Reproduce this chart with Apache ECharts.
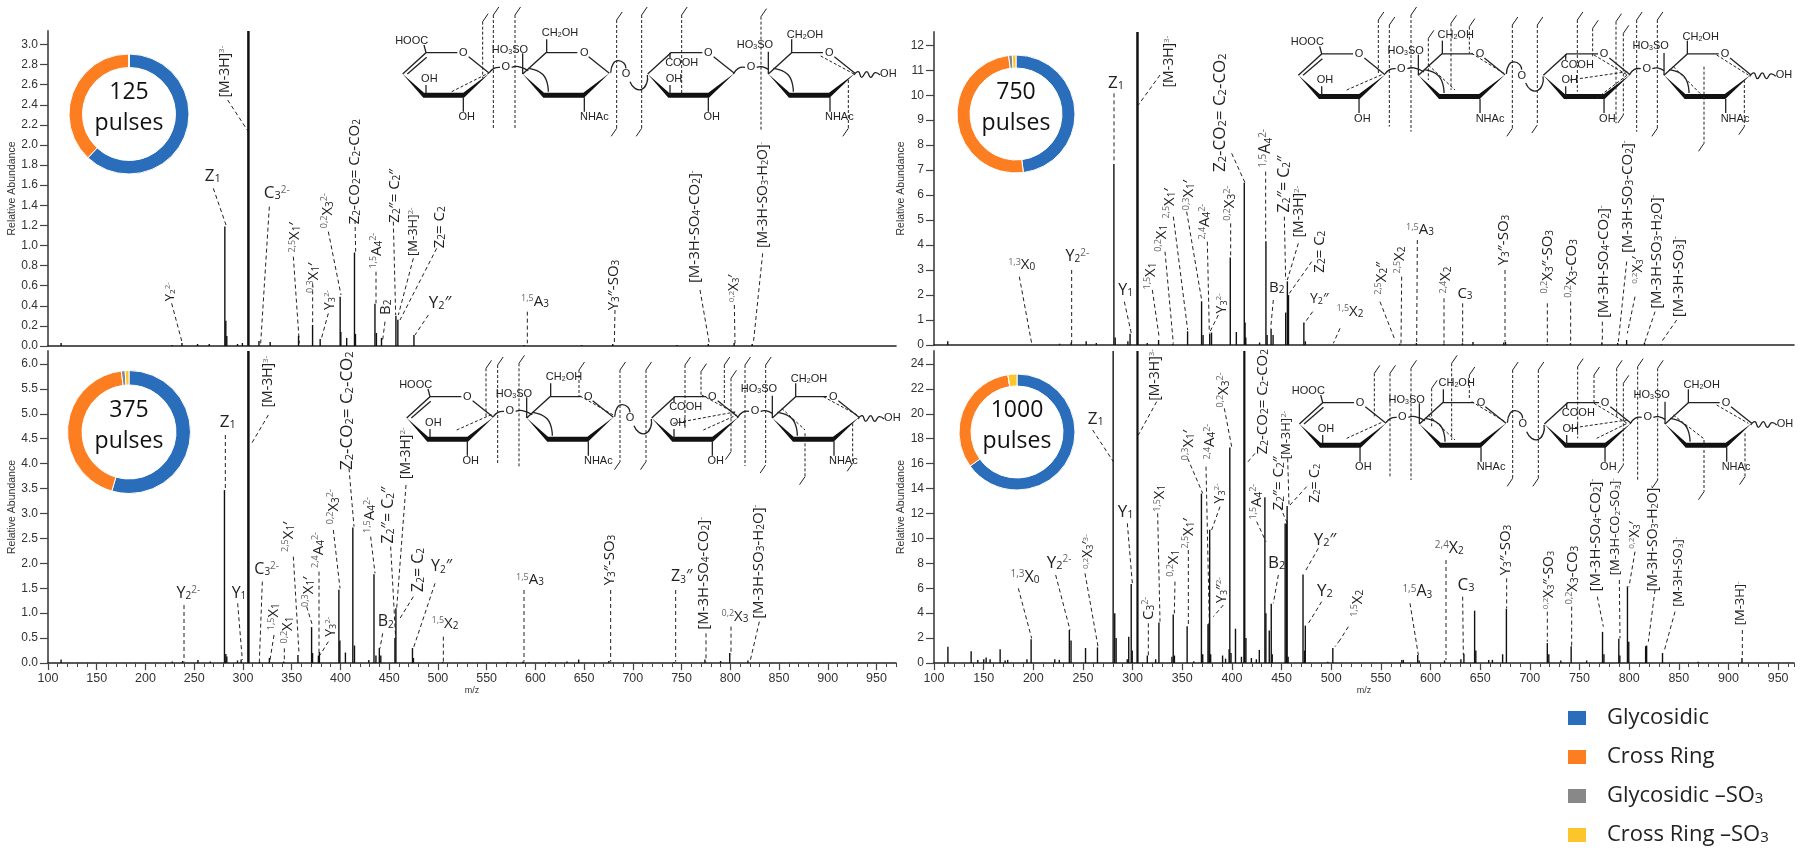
<!DOCTYPE html>
<html>
<head>
<meta charset="utf-8">
<title>MS/MS spectra at increasing pulse counts</title>
<style>
html, body { margin: 0; background: #fff; }
#main { width: 1800px; height: 854px; }
</style>
<script src="https://cdn.jsdelivr.net/npm/echarts@6/dist/echarts.min.js"></script>
</head>
<body>
<div id="main"></div>
<script>
// fragment type shares per pulse count
const fragmentTypes = ['Glycosidic', 'Cross Ring', 'Glycosidic –SO3', 'Cross Ring –SO3'];
const share125 = [62, 38, 0, 0];
const share375 = [54.5, 43.5, 1, 1];
const share750 = [48, 50, 1, 1];
const share1000 = [65, 32.5, 0, 2.5];

// tick labels
const mzTicks = [100, 150, 200, 250, 300, 350, 400, 450, 500, 550, 600, 650, 700, 750, 800, 850, 900, 950];
const yTicks125 = [0, 0.2, 0.4, 0.6, 0.8, 1.0, 1.2, 1.4, 1.6, 1.8, 2.0, 2.2, 2.4, 2.6, 2.8, 3.0];
const yTicks375 = [0, 0.5, 1.0, 1.5, 2.0, 2.5, 3.0, 3.5, 4.0, 4.5, 5.0, 5.5, 6.0];
const yTicks750 = [0, 1, 2, 3, 4, 5, 6, 7, 8, 9, 10, 11, 12];
const yTicks1000 = [0, 2, 4, 6, 8, 10, 12, 14, 16, 18, 20, 22, 24];

// 125 pulses
const mz125 = [114, 228, 238, 254, 266, 282, 283, 284, 295, 300, 317, 328.5, 357.6, 372, 379.8, 400.3, 401, 407, 415, 416, 436, 437.5, 442.7, 457.5, 459.5, 476, 589, 648, 680, 746, 778, 804.5, 823];
const abundance125 = [0.03, 0.01, 0.03, 0.02, 0.02, 1.19, 0.25, 0.1, 0.02, 0.03, 0.05, 0.04, 0.1, 0.21, 0.07, 0.49, 0.14, 0.08, 0.93, 0.12, 0.42, 0.13, 0.08, 0.3, 0.26, 0.11, 0.01, 0.01, 0.02, 0.01, 0.02, 0.03, 0.02];
const baseMz125 = [305.6];
const baseAbundance125 = [3.3];

// 375 pulses
const mz375 = [114, 228, 238.7, 254.4, 267, 281.6, 283, 284, 295, 298.7, 317.6, 327.7, 342.4, 357, 371, 372, 378, 379, 399, 400, 405.7, 413.3, 415, 429.7, 435, 437, 440.5, 442, 456.5, 457.5, 474.5, 475.5, 505.3, 572, 588, 614.4, 633, 645, 676, 743, 774.5, 790.6, 800, 818.6];
const abundance375 = [0.07, 0.03, 0.04, 0.06, 0.03, 3.47, 0.18, 0.13, 0.05, 0.07, 0.03, 0.1, 0.03, 0.16, 0.72, 0.2, 0.15, 0.22, 1.47, 0.45, 0.21, 2.72, 0.35, 0.06, 1.78, 0.15, 0.3, 0.15, 0.5, 1.1, 0.3, 0.1, 0.02, 0.02, 0.03, 0.02, 0.03, 0.07, 0.04, 0.02, 0.07, 0.04, 0.2, 0.05];
const baseMz375 = [305.6];
const baseAbundance375 = [6.5];

// 750 pulses
const mz750 = [114.4, 227, 238.7, 253.8, 264, 281.7, 283, 295.8, 298, 315.3, 326.7, 341, 355.9, 370, 371.5, 378.2, 380, 398.9, 405, 413, 413.8, 414.5, 428.4, 434.8, 436, 440, 442, 454.7, 456.4, 457.5, 473, 474.5, 569.5, 586.3, 613.9, 632.7, 643.3, 674.3, 676, 718, 741.5, 773, 789, 798, 816, 833];
const abundance750 = [0.15, 0.05, 0.1, 0.15, 0.08, 7.25, 0.3, 0.15, 0.45, 0.08, 0.2, 0.05, 0.55, 1.75, 0.4, 0.45, 0.5, 3.5, 0.52, 6.5, 0.9, 0.3, 0.1, 4.15, 0.4, 0.65, 0.4, 1.3, 2.55, 2.0, 0.9, 0.15, 0.05, 0.08, 0.05, 0.07, 0.12, 0.1, 0.12, 0.04, 0.07, 0.1, 0.08, 0.2, 0.1, 0.03];
const baseMz750 = [304.9];
const baseAbundance750 = [13];

// 1000 pulses
const mz1000 = [114.4, 137.8, 144.5, 150.5, 152.9, 156.9, 167, 172, 174.6, 194, 198.2, 222, 226.6, 236.7, 238.4, 253, 265, 280.8, 282.4, 283.8, 295, 296.5, 299, 300, 315.2, 323.6, 326.9, 340, 341.3, 342.5, 355.3, 362, 369.7, 371, 376.3, 377.3, 378, 379, 391, 394, 397.6, 398.3, 399.5, 404, 410, 414.5, 420, 425, 428, 433.6, 434.6, 438, 440, 441, 454, 455.3, 456, 457, 472, 473.5, 474.3, 497, 502, 571.5, 573, 587.5, 589, 614.5, 631, 634, 644.8, 646, 659, 662.7, 673, 676.8, 718, 719.5, 731.6, 742, 757.6, 773.6, 775, 790, 791, 798.7, 800, 817, 818, 834, 869.8, 914];
const abundance1000 = [1.3, 0.95, 0.25, 0.3, 0.45, 0.3, 1.1, 0.2, 0.25, 0.3, 1.9, 0.3, 0.25, 2.65, 1.8, 1.2, 1.25, 25.5, 4, 2, 0.3, 2.1, 6.35, 1, 0.6, 0.3, 3.25, 0.5, 3.9, 0.6, 2.95, 0.15, 13.6, 0.7, 3.1, 3.2, 10.7, 0.7, 0.6, 0.35, 1.1, 17.3, 0.8, 2.75, 0.5, 2, 0.4, 0.3, 1.05, 13.3, 4, 2.6, 4.75, 0.7, 11.2, 11.2, 12.6, 0.5, 7.1, 1, 3, 0.1, 1.2, 0.25, 0.25, 0.65, 0.2, 0.2, 0.3, 0.75, 4.2, 1, 0.25, 0.25, 0.7, 4.35, 1.6, 0.7, 0.2, 1.35, 0.2, 2.5, 0.7, 1.95, 0.6, 6.15, 1.7, 1.35, 1.4, 0.8, 0.1, 0.4];
const baseMz1000 = [304.9, 412.5];
const baseAbundance1000 = [26, 26];

const colors = ['#2a6ebb', '#fd7e20', '#888888', '#fdc52c'];
const axisFont = '"Liberation Sans", Arial, sans-serif';
const labelFont = '"Open Sans", "Noto Sans", sans-serif';

const panels = [
    { pulses: 125, share: share125, mz: mz125, ab: abundance125, baseMz: baseMz125, baseAb: baseAbundance125, yTicks: yTicks125, digits: 1,
      left: 48, top: 31, width: 848, height: 315, xMax: 970, yMax: 3.134, baseWidth: 2.5, showX: false, nameGap: 30, pie: [129, 114, 46.5, 60] },
    { pulses: 750, share: share750, mz: mz750, ab: abundance750, baseMz: baseMz750, baseAb: baseAbundance750, yTicks: yTicks750, digits: 0,
      left: 934, top: 32, width: 860, height: 313, xMax: 966, yMax: 12.53, baseWidth: 2.5, showX: false, nameGap: 26, pie: [1016, 114, 46, 59] },
    { pulses: 375, share: share375, mz: mz375, ab: abundance375, baseMz: baseMz375, baseAb: baseAbundance375, yTicks: yTicks375, digits: 1,
      left: 48, top: 351, width: 848, height: 312, xMax: 970, yMax: 6.26, baseWidth: 2.5, showX: true, nameGap: 30, pie: [129, 432, 47, 61.5] },
    { pulses: 1000, share: share1000, mz: mz1000, ab: abundance1000, baseMz: baseMz1000, baseAb: baseAbundance1000, yTicks: yTicks1000, digits: 0,
      left: 934, top: 351, width: 860, height: 312, xMax: 966, yMax: 25.04, baseWidth: 2.2, showX: true, nameGap: 26, pie: [1017, 432, 46, 58] }
];

// annotation layout: coordinates are in 3x crop space, crop gives the offset
const annotations = [
    { crop: [0, 0], labels: [
        ['[M-3H]^{3-}', 675, 215, 90, 14], ['Z_1', 638, 527, 0, 17], ['C_3^{2-}', 830, 580, 0, 17],
        ['^{2,5}X_1′', 885, 712, 90, 15], ['^{0,3}X_1′', 940, 833, 90, 15], ['^{0,2}X_3^{2-}', 983, 632, 90, 15],
        ['Y_3^{2-}', 990, 900, 90, 14], ['Z_2-CO_2= C_2-CO_2', 1064, 515, 90, 15], ['^{1,5}A_4^{2-}', 1130, 752, 90, 15],
        ['B_2', 1158, 922, 90, 15], ['Z_2″= C_2″', 1185, 587, 90, 15], ['[M-3H]^{2-}', 1240, 695, 90, 13],
        ['Z_2= C_2', 1318, 682, 90, 15], ['Y_2^{2-}', 510, 875, 90, 13]
      ], leaders: [
        [683, 300, 745, 395], [640, 565, 678, 675], [808, 620, 782, 1030], [880, 770, 898, 1030], [938, 850, 938, 970],
        [985, 695, 1023, 885], [985, 940, 963, 1020], [1065, 660, 1067, 755], [1128, 815, 1128, 910], [1155, 965, 1148, 1020],
        [1180, 665, 1187, 945], [1240, 775, 1195, 945], [1310, 745, 1200, 960], [515, 910, 547, 1030]
      ] },
    { crop: [400, 0], labels: [
        ['Y_2″', 120, 908, 0, 17], ['^{1,5}A_3', 405, 905, 0, 15], ['Y_3″-SO_3', 640, 855, 90, 15],
        ['[M-3H-SO_4-CO_2]^-', 885, 680, 90, 15], ['^{0,2}X_3′', 1003, 865, 90, 14], ['[M-3H-SO_3-H_2O]^-', 1090, 585, 90, 14]
      ], leaders: [
        [85, 945, 45, 1005], [382, 935, 382, 1030], [645, 930, 643, 1030], [900, 870, 928, 1030], [1003, 915, 1005, 1030], [1088, 760, 1060, 1030]
      ] },
    { crop: [890, 0], labels: [
        ['[M-3H]^{3-}', 838, 185, 90, 14], ['Z_1', 678, 250, 0, 17], ['^{1,3}X_0', 395, 795, 0, 15], ['Y_2^{2-}', 562, 768, 0, 16],
        ['Y_1', 707, 870, 0, 16], ['^{1,5}X_1', 782, 828, 90, 15], ['^{0,2}X_1', 815, 715, 90, 15], ['^{2,5}X_1′', 838, 610, 90, 15],
        ['^{0,3}X_1′', 897, 585, 90, 15], ['^{2,4}A_4^{2-}', 945, 665, 90, 15], ['Y_3^{2-}', 995, 910, 90, 14], ['^{0,2}X_3^{2-}', 1020, 610, 90, 15],
        ['Z_2-CO_2= C_2-CO_2', 990, 338, 90, 17], ['^{1,5}A_4^{2-}', 1127, 445, 90, 16], ['Z_2″= C_2″', 1182, 552, 90, 16],
        ['[M-3H]^{2-}', 1228, 635, 90, 14], ['B_2', 1160, 862, 0, 15], ['Z_2= C_2', 1288, 755, 90, 15], ['Y_2″', 1288, 898, 0, 14]
      ], leaders: [
        [810, 225, 745, 315], [672, 280, 672, 490], [388, 830, 425, 1030], [545, 810, 545, 1030], [703, 905, 725, 1005], [787, 870, 808, 1015],
        [825, 755, 850, 1030], [850, 650, 893, 990], [890, 635, 935, 900], [952, 725, 958, 1000], [985, 945, 960, 995], [1022, 670, 1022, 770],
        [1025, 460, 1065, 548], [1127, 515, 1127, 720], [1183, 650, 1187, 840], [1225, 730, 1192, 840], [1265, 785, 1198, 880], [1150, 900, 1142, 985],
        [1268, 935, 1243, 970], [1350, 985, 1330, 1030]
      ] },
    { crop: [1340, 0], labels: [
        ['^{1,5}X_2', 30, 935, 0, 15], ['^{2,5}X_2″', 125, 835, 90, 15], ['^{2,5}X_2', 180, 780, 90, 15], ['^{1,5}A_3', 240, 690, 0, 15],
        ['^{2,4}X_2', 318, 840, 90, 15], ['C_3', 375, 880, 0, 15], ['Y_3″-SO_3', 490, 720, 90, 15], ['^{0,2}X_3″-SO_3', 622, 785, 90, 15],
        ['^{0,2}X_3-CO_3', 695, 805, 90, 15], ['[M-3H-SO_4-CO_2]^-', 792, 785, 90, 15], ['[M-3H-SO_3-CO_2]^-', 862, 590, 90, 15],
        ['^{0,2}X_3′', 893, 810, 90, 14], ['[M-3H-SO_3-H_2O]^-', 950, 755, 90, 15], ['[M-3H-SO_3]^-', 1015, 830, 90, 15]
      ], leaders: [
        [120, 905, 165, 1020], [185, 830, 183, 1030], [232, 720, 230, 1030], [312, 895, 312, 1030], [368, 910, 368, 1030], [495, 810, 495, 1025],
        [622, 910, 622, 1030], [692, 905, 692, 1030], [787, 965, 787, 1030], [860, 785, 835, 1025], [885, 890, 862, 1000], [945, 935, 915, 1025], [1010, 960, 965, 1025]
      ] },
    { crop: [0, 340], labels: [
        ['[M-3H]^{3-}', 805, 125, 90, 14], ['Z_1', 683, 247, 0, 17], ['Z_2-CO_2= C_2-CO_2', 1040, 212, 90, 17], ['^{0,2}X_3^{2-}', 1000, 500, 90, 15],
        ['^{1,5}A_4^{2-}', 1110, 525, 90, 15], ['Z_2″= C_2″', 1165, 525, 90, 16], ['[M-3H]^{2-}', 1218, 340, 90, 14], ['^{2,5}X_1′', 865, 590, 90, 15],
        ['^{2,4}A_4^{2-}', 955, 630, 90, 15], ['^{0,3}X_1′', 925, 755, 90, 15], ['C_3^{2-}', 800, 687, 0, 16], ['Y_2^{2-}', 565, 760, 0, 16],
        ['Y_1', 717, 760, 0, 16], ['^{1,5}X_1', 822, 830, 90, 15], ['^{0,2}X_1', 862, 870, 90, 15], ['Y_3^{2-}', 993, 860, 90, 14],
        ['B_2', 1157, 845, 0, 16], ['Z_2= C_2', 1255, 690, 90, 16]
      ], leaders: [
        [805, 225, 755, 310], [676, 285, 676, 445], [1047, 385, 1062, 560], [1000, 570, 1020, 745], [1112, 590, 1125, 700], [1172, 620, 1187, 895],
        [1218, 435, 1190, 805], [880, 650, 897, 940], [957, 695, 957, 940], [920, 800, 937, 855], [787, 725, 778, 965], [552, 795, 552, 965],
        [713, 790, 727, 960], [822, 885, 810, 960], [853, 925, 853, 960], [985, 905, 960, 945], [1148, 880, 1140, 925], [1240, 770, 1200, 835]
      ] },
    { crop: [400, 340], labels: [
        ['Y_2″', 125, 680, 0, 16], ['^{1,5}X_2', 135, 850, 0, 15], ['^{1,5}A_3', 390, 720, 0, 15], ['Y_3″-SO_3', 628, 660, 90, 15],
        ['Z_3″', 845, 710, 0, 16], ['[M-3H-SO_4-CO_2]^-', 912, 700, 90, 15], ['^{0,2}X_3', 1005, 830, 0, 15], ['[M-3H-SO_3-H_2O]^-', 1075, 665, 90, 15]
      ], leaders: [
        [105, 730, 40, 925], [130, 890, 130, 965], [372, 750, 372, 965], [632, 750, 632, 965], [827, 750, 827, 965], [918, 880, 918, 965], [993, 860, 993, 945], [1078, 845, 1050, 965]
      ] },
    { crop: [890, 340], labels: [
        ['[M-3H]^{3-}', 795, 105, 90, 14], ['Z_1', 617, 238, 0, 17], ['^{0,2}X_3^{2-}', 1000, 150, 90, 15], ['Z_2-CO_2= C_2-CO_2', 1118, 185, 90, 15],
        ['^{0,3}X_1′', 895, 315, 90, 15], ['^{2,4}A_4^{2-}', 960, 305, 90, 15], ['[M-3H]^{2-}', 1190, 285, 90, 13], ['Z_2″= C_2″', 1165, 430, 90, 15],
        ['Y_3^{2-}', 990, 460, 90, 14], ['^{1,5}X_1', 810, 475, 90, 15], ['^{1,5}A_4^{2-}', 1100, 485, 90, 15], ['Z_2= C_2', 1275, 430, 90, 14],
        ['Y_1', 707, 515, 0, 17], ['^{2,5}X_1′', 895, 580, 90, 15], ['^{0,2}X_3′^{3-}', 595, 635, 90, 14], ['Y_2^{2-}', 507, 668, 0, 17],
        ['^{1,3}X_0', 405, 712, 0, 16], ['^{0,2}X_1', 850, 670, 90, 15], ['C_3^{2-}', 775, 805, 90, 15], ['Y_3″^{2-}', 995, 750, 90, 14],
        ['B_2', 1160, 668, 0, 17], ['Y_2″', 1305, 600, 0, 17], ['Y_2', 1305, 752, 0, 17]
      ], leaders: [
        [800, 185, 745, 285], [608, 270, 670, 365], [1003, 205, 1025, 320], [1095, 340, 1070, 370], [893, 355, 938, 460], [948, 380, 958, 850],
        [1193, 355, 1197, 495], [1170, 500, 1192, 550], [990, 500, 965, 570], [803, 520, 810, 845], [1100, 545, 1128, 605], [1250, 440, 1200, 495],
        [712, 550, 727, 730], [895, 630, 895, 860], [585, 700, 625, 925], [497, 705, 540, 870], [385, 745, 425, 895], [855, 725, 853, 820],
        [775, 850, 775, 950], [1000, 795, 970, 830], [1165, 705, 1150, 790], [1285, 625, 1245, 695], [1295, 785, 1252, 855], [1350, 900, 1335, 920]
      ] },
    { crop: [1340, 340], labels: [
        ['^{1,5}X_2', 52, 790, 90, 15], ['^{2,4}X_2', 328, 625, 0, 16], ['^{1,5}A_3', 232, 755, 0, 16], ['C_3', 378, 735, 0, 17],
        ['Y_3″-SO_3', 497, 630, 90, 15], ['^{0,2}X_3″-SO_3', 627, 720, 90, 14], ['^{0,2}X_3-CO_3', 698, 705, 90, 15], ['[M-3H-SO_4-CO_2]^-', 767, 585, 90, 15],
        ['[M-3H-CO_2-SO_3]^-', 825, 560, 90, 13], ['^{0,2}X_3′', 885, 585, 90, 14], ['[M-3H-SO_3-H_2O]^-', 940, 595, 90, 14],
        ['[M-3H-SO_3]^-', 1015, 695, 90, 13], ['[M-3H]^-', 1200, 790, 90, 13]
      ], leaders: [
        [25, 860, 0, 900], [318, 660, 318, 960], [210, 790, 235, 945], [368, 770, 370, 945], [500, 715, 500, 805], [622, 815, 622, 905], [695, 800, 695, 920],
        [772, 770, 790, 860], [838, 720, 840, 895], [885, 635, 867, 740], [945, 750, 925, 905], [1005, 815, 972, 935], [1207, 870, 1207, 950]
      ] }
];

// glycan sketches: panel offset, dashed cleavage lines [x, top, bottom, topTick, bottomTick] and ring diagonals
const glycans = [
    { offset: [0, 0], crop: [400, 0],
      cuts: [[248, 65, 235, 1, 0], [280, 45, 390, 1, 0], [345, 45, 390, 1, 0], [650, 60, 385, 1, 1], [725, 45, 385, 1, 1], [845, 45, 280, 1, 0], [1083, 50, 390, 1, 0], [1345, 240, 385, 0, 1]],
      diagonals: [[155, 275, 268, 218], [1262, 168, 1362, 222]] },
    { offset: [895.7, 1.3], crop: [1340, 0],
      cuts: [[115, 60, 220, 1, 0], [148, 75, 380, 1, 0], [213, 45, 395, 1, 0], [265, 115, 240, 1, 0], [333, 70, 270, 1, 0], [388, 80, 160, 1, 0], [517, 75, 385, 1, 1], [592, 75, 375, 1, 1], [712, 60, 275, 1, 0], [758, 85, 170, 1, 0], [828, 65, 370, 1, 0], [850, 100, 345, 1, 1], [890, 60, 395, 1, 0], [952, 60, 385, 1, 1], [1092, 200, 430, 0, 1], [1213, 240, 380, 0, 1]],
      diagonals: [[395, 160, 495, 222], [265, 195, 345, 270], [690, 240, 862, 215], [770, 295, 862, 225], [762, 165, 862, 225], [1130, 165, 1225, 225], [1000, 200, 1090, 290], [20, 270, 130, 222]] },
    { offset: [4, 344], crop: [400, 340],
      cuts: [[258, 85, 230, 1, 0], [293, 75, 370, 1, 0], [357, 70, 380, 1, 0], [537, 90, 170, 1, 0], [660, 90, 365, 1, 1], [738, 90, 365, 1, 1], [855, 75, 270, 1, 0], [903, 95, 170, 1, 0], [973, 75, 190, 1, 0], [993, 115, 335, 1, 1], [1035, 75, 378, 1, 0], [1097, 75, 375, 1, 1], [1215, 280, 410, 0, 1], [1358, 250, 370, 0, 1]],
      diagonals: [[170, 270, 278, 222], [540, 168, 640, 225], [820, 250, 1010, 215], [910, 270, 1010, 225], [905, 165, 1010, 222], [1270, 170, 1372, 225], [1145, 205, 1215, 270]] },
    { offset: [896.7, 350], crop: [1340, 340],
      cuts: [[103, 100, 230, 1, 0], [150, 100, 415, 1, 0], [213, 85, 420, 1, 0], [275, 145, 265, 1, 0], [335, 70, 300, 1, 0], [388, 105, 180, 1, 0], [518, 90, 415, 1, 1], [595, 90, 415, 1, 1], [713, 80, 295, 1, 0], [762, 105, 190, 1, 0], [830, 85, 235, 1, 0], [850, 130, 375, 1, 1], [893, 80, 420, 1, 0], [953, 85, 420, 1, 1], [1092, 300, 455, 0, 1], [1215, 280, 410, 0, 1]],
      diagonals: [[395, 185, 495, 245], [265, 225, 345, 300], [690, 265, 862, 240], [770, 295, 862, 250], [762, 190, 862, 250], [1130, 195, 1225, 250], [1000, 225, 1090, 295], [20, 295, 130, 245]] }
];

const ringOffsets = [0, 360, 735, 1097];
const glycanText = [
    ['HOOC', 35, 122], ['OH', 88, 236], ['OH', 200, 352], ['HO_3SO', 330, 150], ['CH_2OH', 480, 100], ['NHAc', 583, 352],
    ['O', 317, 202], ['O', 678, 223], ['COOH', 845, 190], ['OH', 822, 236], ['OH', 935, 352], ['O', 1053, 202],
    ['HO_3SO', 1065, 135], ['CH_2OH', 1215, 106], ['NHAc', 1318, 352], ['OH', 1465, 222],
    ['O', 190, 158], ['O', 553, 158], ['O', 925, 158], ['O', 1288, 158]
];
const glycanBonds = [
    [[190, 292], [190, 335]], [[78, 255], [78, 280]], [[78, 158], [72, 135]], [[22, 222], [80, 172]],
    [[440, 158], [440, 118]], [[368, 160], [368, 222]], [[553, 292], [553, 335]],
    [[810, 158], [810, 175]], [[810, 255], [810, 285]], [[925, 292], [925, 335]],
    [[1105, 155], [1105, 222]], [[1175, 158], [1175, 118]], [[1290, 292], [1290, 335]]
];
const glycanCurves = [
    [[268, 218], [282, 205], [300, 202]], [[335, 202], [355, 200], [385, 212]], [[385, 205], [430, 225], [445, 275]],
    [[632, 218], [640, 190], [655, 182], [672, 190], [678, 205]], [[690, 245], [705, 265], [725, 268], [740, 250], [742, 225]],
    [[1000, 222], [1015, 205], [1035, 202]], [[1070, 202], [1085, 200], [1105, 208]], [[1120, 205], [1165, 225], [1180, 275]],
    [[1362, 225], [1375, 215], [1385, 232], [1400, 215], [1412, 232], [1425, 218], [1440, 225]]
];

// "^{1,5}A_4^{2-}" -> rich text tokens
function toRich(s) {
    return s.replace(/([\^_])(\{[^}]*\}|.)|([^\^_]+)/g, function (m, mark, script, plain) {
        if (plain) return '{n|' + plain + '}';
        const body = script.replace(/[{}]/g, '');
        return (mark === '^' ? '{u|' : '{d|') + body + '}';
    });
}

function richStyles(size, font, color) {
    return {
        n: { fontSize: size, fontFamily: font, fill: color },
        u: { fontSize: Math.round(size * 0.6), fontFamily: font, fill: '#666', verticalAlign: 'top' },
        d: { fontSize: Math.round(size * 0.65), fontFamily: font, fill: color, verticalAlign: 'bottom' }
    };
}

function textEl(s, x, y, rot, size, font, color) {
    return {
        type: 'text', x: x, y: y, rotation: rot * Math.PI / 180, silent: true,
        style: { text: toRich(s), rich: richStyles(size, font, color), fontSize: size, fontFamily: font, fill: color, align: 'center', verticalAlign: 'middle' }
    };
}

function lineEl(x1, y1, x2, y2, width, dash) {
    return {
        type: 'line', silent: true,
        shape: { x1: x1, y1: y1, x2: x2, y2: y2 },
        style: { stroke: '#222', lineWidth: width, lineDash: dash || null }
    };
}

function buildAnnotations() {
    const out = [];
    annotations.forEach(function (group) {
        const cx = group.crop[0], cy = group.crop[1];
        group.leaders.forEach(function (l) {
            out.push(lineEl(cx + l[0] / 3, cy + l[1] / 3, cx + l[2] / 3, cy + l[3] / 3, 1, [4, 3]));
        });
        group.labels.forEach(function (l) {
            out.push(textEl(l[0], cx + l[1] / 3, cy + l[2] / 3, l[3], l[4], labelFont, '#222'));
        });
    });
    return out;
}

function buildGlycan(g) {
    const out = [];
    const ox = 400 + g.offset[0], oy = g.offset[1];
    const pt = function (p) { return [ox + p[0] / 3, oy + p[1] / 3]; };
    ringOffsets.forEach(function (d) {
        const ring = function (p) { return pt([p[0] + d, p[1]]); };
        out.push({ type: 'polyline', silent: true, shape: { points: [[8, 222], [78, 158], [172, 158]].map(ring) }, style: { stroke: '#222', lineWidth: 1.3, fill: null } });
        out.push({ type: 'polyline', silent: true, shape: { points: [[206, 170], [268, 220]].map(ring) }, style: { stroke: '#222', lineWidth: 1.3, fill: null } });
        out.push({ type: 'polygon', silent: true, shape: { points: [[8, 222], [72, 278], [190, 278], [268, 220], [192, 293], [70, 293]].map(ring) }, style: { fill: '#111' } });
    });
    glycanBonds.forEach(function (b) {
        const a = pt(b[0]), c = pt(b[1]);
        out.push(lineEl(a[0], a[1], c[0], c[1], 1.3));
    });
    glycanCurves.forEach(function (c) {
        out.push({ type: 'polyline', silent: true, shape: { points: c.map(pt), smooth: 0.5 }, style: { stroke: '#222', lineWidth: 1.3, fill: null } });
    });
    glycanText.forEach(function (t) {
        const p = pt([t[1], t[2]]);
        // clear the bond behind the ring and link oxygens
        if (t[0] === 'O') out.push({ type: 'circle', silent: true, shape: { cx: p[0], cy: p[1], r: 5 }, style: { fill: '#fff' } });
        out.push(textEl(t[0], p[0], p[1], 0, 11, axisFont, '#222'));
    });
    const cx = g.crop[0], cy = g.crop[1];
    g.cuts.forEach(function (c) {
        const x = cx + c[0] / 3, top = cy + c[1] / 3, bot = cy + c[2] / 3;
        out.push(lineEl(x, top, x, bot, 1, [3, 2]));
        if (c[3]) out.push(lineEl(x, top, x + 5.5, top - 8, 1));
        if (c[4]) out.push(lineEl(x, bot, x - 5.5, bot + 8, 1));
    });
    g.diagonals.forEach(function (d) {
        out.push(lineEl(cx + d[0] / 3, cy + d[1] / 3, cx + d[2] / 3, cy + d[3] / 3, 1, [3, 2]));
    });
    return out;
}

function zip(a, b) {
    return a.map(function (v, i) { return [v, b[i]]; });
}

const grids = [], xAxes = [], yAxes = [], series = [], elements = [];

panels.forEach(function (p, i) {
    grids.push({ left: p.left, top: p.top, width: p.width, height: p.height });
    const axisLine = { lineStyle: { color: '#222', width: 1.6 }, onZero: false };
    const xIndex = xAxes.length;
    xAxes.push({
        type: 'value', gridIndex: i, min: 100, max: p.xMax, interval: 50, splitLine: { show: false },
        name: p.showX ? 'm/z' : '', nameLocation: 'middle', nameGap: 21,
        nameTextStyle: { fontFamily: axisFont, fontSize: 9, color: '#333' },
        axisLine: axisLine,
        axisTick: { show: p.showX, length: 7, customValues: mzTicks, lineStyle: { color: '#444', width: 1.2 } },
        axisLabel: { show: p.showX, customValues: mzTicks, margin: 9, fontFamily: axisFont, fontSize: 12.5, color: '#333' }
    });
    if (p.showX) {
        // 10 m/z small ticks
        xAxes.push({
            type: 'value', gridIndex: i, min: 100, max: p.xMax, interval: 10, splitLine: { show: false }, position: 'bottom',
            axisLine: { show: false }, axisLabel: { show: false },
            axisTick: { length: 4, lineStyle: { color: '#444', width: 1 } }
        });
    }
    yAxes.push({
        type: 'value', gridIndex: i, min: 0, max: p.yMax, splitLine: { show: false },
        name: 'Relative Abundance', nameLocation: 'middle', nameGap: p.nameGap,
        nameTextStyle: { fontFamily: axisFont, fontSize: 10.5, color: '#333' },
        axisLine: { show: true, lineStyle: { color: '#555', width: 1.8 }, onZero: false },
        axisTick: { length: 8, customValues: p.yTicks, lineStyle: { color: '#444', width: 1.2 } },
        axisLabel: {
            customValues: p.yTicks, margin: 10, fontFamily: axisFont, fontSize: 12, color: '#333',
            formatter: function (v) { return Number(v).toFixed(p.digits); }
        }
    });
    series.push({
        type: 'bar', name: p.pulses + ' peaks', xAxisIndex: xIndex, yAxisIndex: i, barWidth: 1.4, barGap: '-100%', silent: true,
        itemStyle: { color: '#111' }, data: zip(p.mz, p.ab)
    });
    series.push({
        type: 'bar', name: p.pulses + ' base', xAxisIndex: xIndex, yAxisIndex: i, barWidth: p.baseWidth, barGap: '-100%', silent: true,
        itemStyle: { color: '#111' }, data: zip(p.baseMz, p.baseAb)
    });
    series.push({
        type: 'pie', center: [p.pie[0], p.pie[1]], radius: [p.pie[2], p.pie[3]], startAngle: 90, clockwise: true, silent: true,
        label: { show: false }, labelLine: { show: false }, itemStyle: { borderColor: '#fff', borderWidth: 1 },
        data: fragmentTypes.map(function (name, k) {
            return { name: name, value: p.share[k], itemStyle: { color: colors[k] } };
        })
    });
    elements.push(textEl(String(p.pulses), p.pie[0], p.pie[1] - 22, 0, 23, labelFont, '#111'));
    elements.push(textEl('pulses', p.pie[0], p.pie[1] + 9, 0, 23, labelFont, '#111'));
});

glycans.forEach(function (g) {
    buildGlycan(g).forEach(function (e) { elements.push(e); });
});
buildAnnotations().forEach(function (e) { elements.push(e); });

const chart = echarts.init(document.getElementById('main'), null, { renderer: 'canvas' });
chart.setOption({
    animation: false,
    backgroundColor: '#fff',
    tooltip: { show: false },
    grid: grids,
    xAxis: xAxes,
    yAxis: yAxes,
    legend: {
        left: 1566, top: 707, height: 147, padding: 0, orient: 'vertical', icon: 'rect', itemWidth: 20, itemHeight: 16, itemGap: 17,
        selectedMode: false, data: fragmentTypes,
        formatter: function (name) { return name.replace(/3$/, '{s|3}'); },
        textStyle: {
            fontFamily: labelFont, fontSize: 22, color: '#222', padding: [0, 0, 0, 15], lineHeight: 20,
            rich: { s: { fontFamily: labelFont, fontSize: 15, verticalAlign: 'bottom', lineHeight: 20, padding: [6, 0, 0, 0], color: '#222' } }
        }
    },
    graphic: { elements: elements },
    series: series
});
</script>
</body>
</html>
